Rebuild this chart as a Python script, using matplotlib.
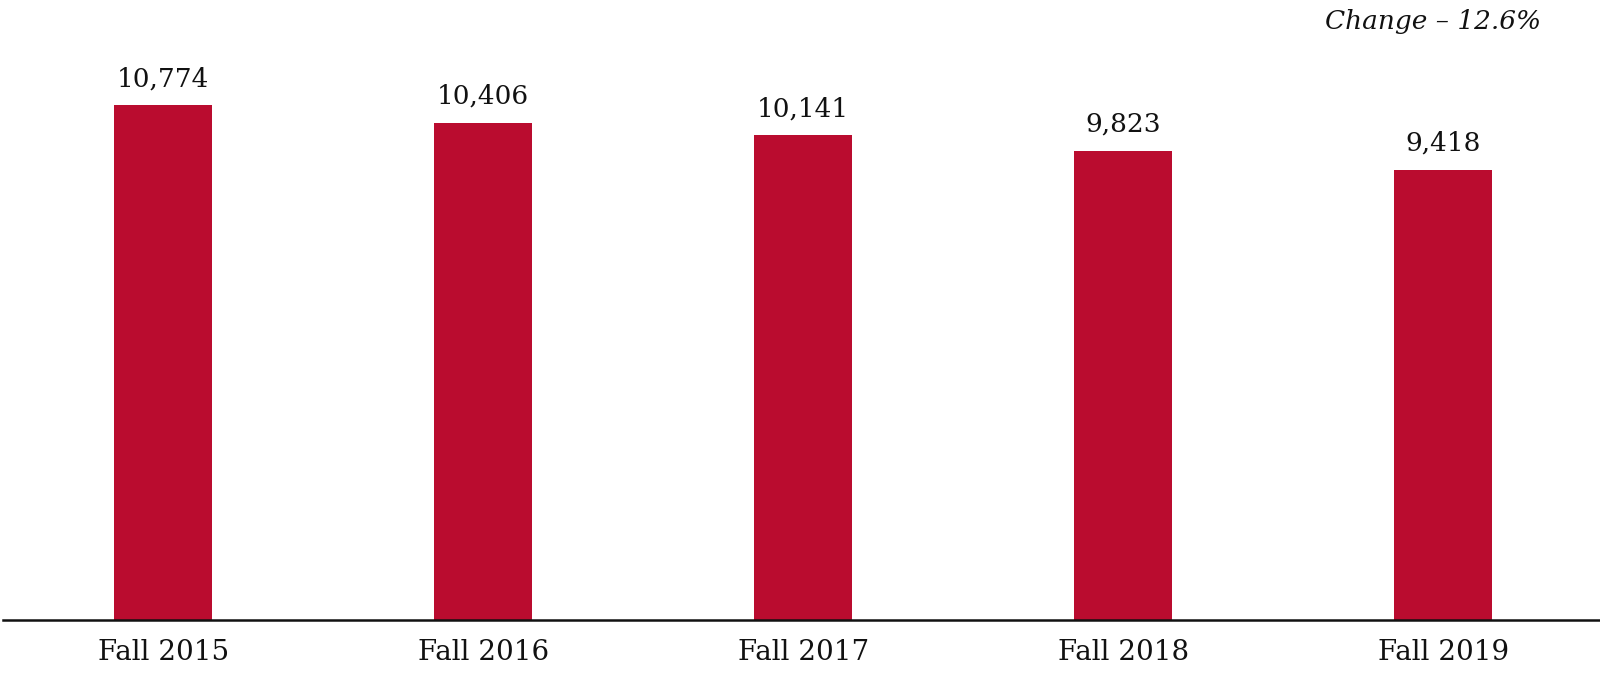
import matplotlib
matplotlib.use("Agg")
import matplotlib.pyplot as plt

categories = ["Fall 2015", "Fall 2016", "Fall 2017", "Fall 2018", "Fall 2019"]
values = [10774, 10406, 10141, 9823, 9418]
labels = ["10,774", "10,406", "10,141", "9,823", "9,418"]
note = "Change – 12.6%"

plt.rcParams['font.family'] = ['DejaVu Serif']

fig = plt.figure(figsize=(16, 6.78), dpi=100)
ax = fig.add_axes([0.002, 0.0855, 0.998, 0.846])
x = list(range(len(categories)))
bars = ax.bar(x, values, width=0.305, color="#BA0C2F")
ax.set_xlim(-0.5, 4.49)
ax.set_ylim(0, 12000)
for xi, v, lab in zip(x, values, labels):
    ax.annotate(lab, (xi, v), xytext=(0, 10), textcoords="offset points",
                ha="center", va="bottom", fontsize=19, color="#111111")
ax.set_xticks(x)
ax.set_xticklabels(categories, fontsize=20, color="#111111")
ax.tick_params(axis="x", length=0, pad=14)
ax.set_yticks([])
for s in ["top", "right", "left"]:
    ax.spines[s].set_visible(False)
ax.spines["bottom"].set_linewidth(1.8)
ax.spines["bottom"].set_color("#111111")
fig.text(1541/1600, 1 - 21/678, note, ha="right", va="center", fontsize=19,
         style="italic", color="#111111")
fig.savefig("out.png", dpi=100, facecolor="white")
